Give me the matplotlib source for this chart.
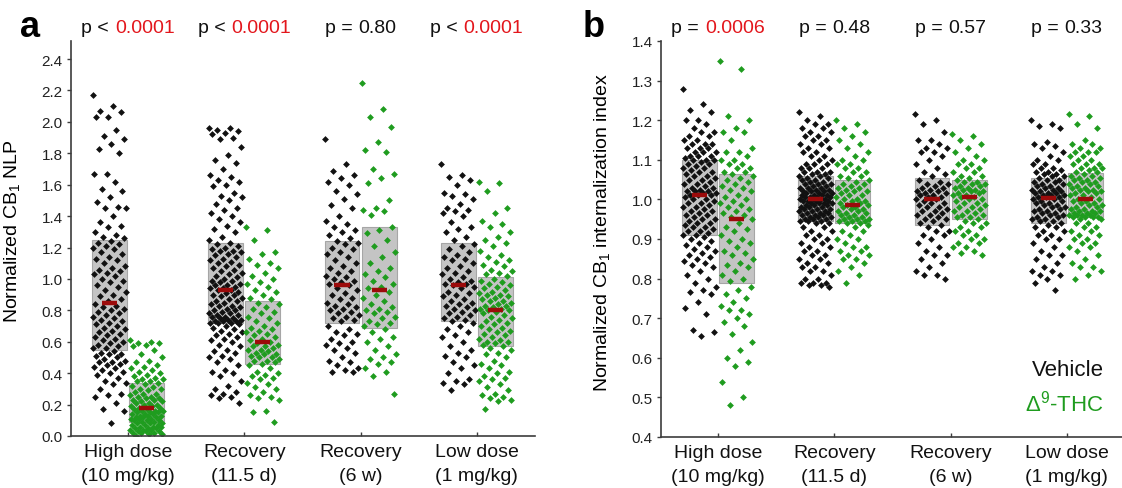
import numpy as np
import matplotlib.pyplot as plt
from matplotlib.patches import Rectangle
from matplotlib.offsetbox import TextArea, HPacker, AnnotationBbox

plt.rcParams['font.family'] = ['Liberation Sans', 'DejaVu Sans']
plt.rcParams['mathtext.fontset'] = 'custom'
plt.rcParams['mathtext.rm'] = 'Liberation Sans'
plt.rcParams['mathtext.it'] = 'Liberation Sans:italic'

groups = ["High dose\n(10 mg/kg)", "Recovery\n(11.5 d)", "Recovery\n(6 w)", "Low dose\n(1 mg/kg)"]

# ---- panel a: normalized CB1 NLP ----
nlp_hd_veh = [2.17, 2.10, 2.07, 2.06, 2.03, 2.03, 1.95, 1.91, 1.89, 1.86, 1.83, 1.80, 1.67, 1.67, 1.62,
              1.57, 1.56, 1.52, 1.49, 1.46, 1.45, 1.45, 1.40, 1.36, 1.34, 1.33, 1.30, 1.28, 1.27, 1.26,
              1.24, 1.23, 1.22, 1.21, 1.20, 1.19, 1.17, 1.16, 1.14, 1.13, 1.12, 1.10, 1.08, 1.07, 1.06,
              1.05, 1.04, 1.03, 1.02, 1.00, 0.99, 0.98, 0.96, 0.95, 0.93, 0.92, 0.90, 0.89, 0.87, 0.86,
              0.84, 0.83, 0.82, 0.81, 0.80, 0.79, 0.78, 0.77, 0.76, 0.75, 0.74, 0.73, 0.72, 0.71, 0.70,
              0.69, 0.68, 0.67, 0.66, 0.65, 0.64, 0.63, 0.62, 0.61, 0.60, 0.59, 0.58, 0.57, 0.56, 0.56,
              0.54, 0.53, 0.52, 0.52, 0.51, 0.50, 0.49, 0.48, 0.47, 0.47, 0.46, 0.45, 0.44, 0.43, 0.42,
              0.41, 0.40, 0.39, 0.37, 0.35, 0.34, 0.33, 0.30, 0.27, 0.26, 0.25, 0.21, 0.17, 0.16, 0.08]
nlp_hd_thc = [0.61, 0.60, 0.59, 0.59, 0.58, 0.57, 0.55, 0.52, 0.50, 0.48, 0.47, 0.45, 0.44, 0.43, 0.42,
              0.41, 0.40, 0.39, 0.38, 0.37, 0.36, 0.36, 0.35, 0.35, 0.34,
              0.33, 0.32, 0.31, 0.30, 0.30, 0.29, 0.28, 0.27, 0.27, 0.26, 0.25, 0.25, 0.24, 0.24, 0.23,
              0.23, 0.22, 0.22, 0.21, 0.21, 0.20, 0.20, 0.19, 0.19, 0.18,
              0.18, 0.17, 0.17, 0.16, 0.16, 0.16, 0.15, 0.15, 0.15, 0.14, 0.14, 0.14, 0.13, 0.13, 0.13,
              0.12, 0.12, 0.12, 0.11, 0.11, 0.11, 0.10, 0.10, 0.10, 0.09,
              0.09, 0.08, 0.08, 0.08, 0.07, 0.07, 0.07, 0.06, 0.06, 0.06, 0.05, 0.05, 0.05, 0.04, 0.04,
              0.04, 0.03, 0.03, 0.03, 0.02, 0.02, 0.02, 0.01, 0.01, 0.00]
nlp_r11_veh = [1.96, 1.96, 1.95, 1.94, 1.93, 1.92, 1.90, 1.89, 1.84, 1.79, 1.76, 1.74, 1.70, 1.66, 1.65,
               1.63, 1.62, 1.60, 1.59, 1.55, 1.53, 1.52, 1.50, 1.48, 1.45, 1.44, 1.42, 1.40, 1.38, 1.36,
               1.34, 1.32, 1.30, 1.27, 1.25,
               1.23, 1.22, 1.21, 1.20, 1.19, 1.18, 1.18, 1.17, 1.16, 1.15, 1.14, 1.13, 1.12, 1.11, 1.10,
               1.09, 1.08, 1.07, 1.06, 1.05, 1.04, 1.03, 1.02, 1.01, 1.00, 0.99, 0.99, 0.98, 0.97, 0.96,
               0.96, 0.95, 0.94, 0.94, 0.93,
               0.93, 0.92, 0.91, 0.90, 0.90, 0.89, 0.88, 0.87, 0.86, 0.86, 0.85, 0.84, 0.83, 0.83, 0.82,
               0.81, 0.80, 0.80, 0.79, 0.78, 0.78, 0.77, 0.77, 0.76, 0.76, 0.75, 0.75, 0.74, 0.74, 0.73,
               0.73, 0.73, 0.72, 0.72, 0.72,
               0.71, 0.70, 0.69, 0.68, 0.67, 0.66, 0.65, 0.64, 0.63, 0.62, 0.61, 0.60, 0.58, 0.57, 0.55,
               0.54, 0.53, 0.51, 0.50, 0.49, 0.47, 0.45, 0.42, 0.41, 0.40, 0.38, 0.35, 0.32, 0.30, 0.28,
               0.27, 0.26, 0.25, 0.24, 0.21]
nlp_r11_thc = [1.33, 1.31, 1.25, 1.17, 1.16, 1.13, 1.10, 1.09, 1.07, 1.04, 1.02, 1.00, 0.98, 0.97, 0.95,
               0.93, 0.92, 0.90, 0.88, 0.87,
               0.85, 0.84, 0.82, 0.81, 0.79, 0.78, 0.76, 0.75, 0.73, 0.72, 0.70, 0.69, 0.68, 0.67, 0.66,
               0.65, 0.64, 0.63, 0.62, 0.61,
               0.60, 0.59, 0.58, 0.57, 0.57, 0.56, 0.55, 0.55, 0.54, 0.53, 0.52, 0.52, 0.51, 0.50, 0.50,
               0.49, 0.48, 0.48, 0.47, 0.46,
               0.45, 0.43, 0.41, 0.40, 0.39, 0.38, 0.37, 0.36, 0.34, 0.33, 0.31, 0.30, 0.28, 0.26, 0.25,
               0.24, 0.23, 0.16, 0.15, 0.09]
nlp_r6_veh = [1.89, 1.73, 1.69, 1.66, 1.64, 1.62, 1.60, 1.56, 1.54, 1.51, 1.47, 1.45, 1.40, 1.37, 1.35,
              1.33, 1.31, 1.30, 1.28, 1.26,
              1.24, 1.23, 1.22, 1.20, 1.19, 1.17, 1.16, 1.14, 1.12, 1.10, 1.08, 1.07, 1.05, 1.04, 1.02,
              1.01, 1.00, 0.99, 0.98, 0.97,
              0.96, 0.94, 0.93, 0.91, 0.90, 0.88, 0.87, 0.85, 0.84, 0.83, 0.82, 0.81, 0.80, 0.79, 0.78,
              0.77, 0.76, 0.75, 0.74, 0.73,
              0.70, 0.68, 0.66, 0.65, 0.64, 0.62, 0.60, 0.59, 0.58, 0.56, 0.55, 0.53, 0.50, 0.48, 0.47,
              0.45, 0.43, 0.42, 0.41, 0.41]
nlp_r6_thc = [2.25, 2.08, 2.03, 1.97, 1.87, 1.82, 1.81, 1.70, 1.67, 1.64, 1.61, 1.50, 1.45, 1.44, 1.43, 1.41,
              1.33, 1.31, 1.29, 1.25, 1.21, 1.17, 1.14, 1.10, 1.07, 1.05, 1.03, 1.01, 0.99, 0.97, 0.95, 0.94,
              0.92, 0.90, 0.88, 0.86, 0.84, 0.82, 0.81, 0.80, 0.79, 0.78, 0.76, 0.75, 0.73, 0.72, 0.71, 0.70,
              0.68, 0.66, 0.63, 0.62, 0.60, 0.57, 0.55, 0.52, 0.50, 0.49, 0.47, 0.46, 0.43, 0.41, 0.38, 0.27]
nlp_ld_veh = [1.73, 1.66, 1.65, 1.63, 1.60, 1.55, 1.54, 1.53, 1.51, 1.48, 1.45, 1.44, 1.43, 1.42, 1.40,
              1.36, 1.33, 1.32, 1.30, 1.27, 1.25,
              1.22, 1.21, 1.19, 1.17, 1.15, 1.14, 1.13, 1.12, 1.10, 1.08, 1.07, 1.05, 1.04, 1.03, 1.01,
              1.00, 0.99, 0.98, 0.97, 0.97, 0.96,
              0.95, 0.94, 0.92, 0.91, 0.90, 0.89, 0.87, 0.86, 0.85, 0.84, 0.83, 0.82, 0.81, 0.80, 0.79,
              0.78, 0.77, 0.76, 0.75, 0.74, 0.73,
              0.72, 0.70, 0.68, 0.66, 0.64, 0.63, 0.60, 0.57, 0.55, 0.53, 0.51, 0.50, 0.47, 0.45, 0.43,
              0.40, 0.36, 0.35, 0.34, 0.33, 0.29]
nlp_ld_thc = [1.62, 1.61, 1.56, 1.45, 1.42, 1.37, 1.35, 1.33, 1.30, 1.27, 1.25, 1.23, 1.21, 1.18, 1.15,
              1.14, 1.12, 1.11, 1.09, 1.08, 1.06, 1.05, 1.04, 1.03, 1.02,
              1.00, 0.99, 0.98, 0.97, 0.96, 0.95, 0.94, 0.93, 0.92, 0.91, 0.90, 0.90, 0.89, 0.88, 0.87,
              0.86, 0.86, 0.85, 0.84, 0.83, 0.83, 0.82, 0.81, 0.81, 0.80,
              0.80, 0.79, 0.78, 0.77, 0.76, 0.75, 0.74, 0.73, 0.72, 0.71, 0.70, 0.69, 0.68, 0.67, 0.66,
              0.65, 0.64, 0.63, 0.62, 0.61, 0.60, 0.60, 0.59, 0.58, 0.57,
              0.56, 0.55, 0.53, 0.52, 0.50, 0.48, 0.46, 0.45, 0.43, 0.41, 0.40, 0.38, 0.37, 0.36, 0.35,
              0.33, 0.31, 0.29, 0.27, 0.26, 0.25, 0.24, 0.23, 0.22, 0.17]

# box = (lower, median, upper)
nlp_box_veh = [(0.55, 0.85, 1.25), (0.72, 0.93, 1.23), (0.72, 0.96, 1.24), (0.73, 0.96, 1.23)]
nlp_box_thc = [(0.09, 0.18, 0.34), (0.46, 0.60, 0.86), (0.69, 0.93, 1.33), (0.57, 0.80, 1.01)]
nlp_p = [("p <", "0.0001", True), ("p <", "0.0001", True), ("p =", "0.80", False), ("p <", "0.0001", True)]

# ---- panel b: normalized CB1 internalization index ----
idx_hd_veh = [1.28, 1.24, 1.225, 1.22, 1.20, 1.20, 1.19, 1.18, 1.17, 1.17, 1.16, 1.16, 1.15, 1.15, 1.14,
              1.14, 1.14, 1.13, 1.13, 1.13, 1.12, 1.12, 1.12, 1.11, 1.11, 1.11, 1.105, 1.10, 1.10, 1.10,
              1.095, 1.09, 1.09, 1.085, 1.08, 1.08, 1.075, 1.07, 1.07, 1.065, 1.06, 1.06, 1.055, 1.05, 1.05,
              1.045, 1.04, 1.04, 1.035, 1.03, 1.03, 1.025, 1.02, 1.02, 1.02, 1.015, 1.015, 1.01, 1.01, 1.01,
              1.005, 1.00, 1.00, 0.995, 0.99, 0.99, 0.985, 0.98, 0.98, 0.975, 0.97, 0.97, 0.965, 0.96, 0.96,
              0.955, 0.95, 0.95, 0.945, 0.94, 0.94, 0.935, 0.93, 0.93, 0.925, 0.92, 0.92, 0.915, 0.91, 0.91,
              0.905, 0.90, 0.895, 0.89, 0.885, 0.88, 0.875, 0.87, 0.865, 0.86, 0.855, 0.85, 0.845, 0.84, 0.835,
              0.83, 0.82, 0.81, 0.80, 0.79, 0.78, 0.77, 0.765, 0.76, 0.74, 0.725, 0.71, 0.67, 0.665, 0.655]
idx_hd_thc = [1.35, 1.33, 1.21, 1.20, 1.18, 1.17, 1.17, 1.15, 1.13, 1.12, 1.12, 1.11, 1.10, 1.10, 1.09,
              1.09, 1.08, 1.08, 1.07, 1.07, 1.065,
              1.06, 1.055, 1.05, 1.045, 1.04, 1.035, 1.03, 1.025, 1.02, 1.01, 1.005, 1.00, 0.995, 0.99, 0.985,
              0.98, 0.975, 0.97, 0.965, 0.96, 0.955,
              0.95, 0.94, 0.93, 0.925, 0.92, 0.91, 0.90, 0.895, 0.89, 0.88, 0.87, 0.865, 0.86, 0.85, 0.84,
              0.835, 0.83, 0.82, 0.81, 0.80, 0.795,
              0.78, 0.77, 0.76, 0.75, 0.74, 0.73, 0.72, 0.72, 0.71, 0.70, 0.69, 0.68, 0.66, 0.64, 0.62,
              0.60, 0.59, 0.58, 0.54, 0.50, 0.48]
idx_r11_veh = [1.22, 1.21, 1.20, 1.19, 1.19, 1.18, 1.18, 1.17, 1.17, 1.16, 1.16, 1.15, 1.15, 1.14, 1.14,
               1.13, 1.13, 1.12, 1.12, 1.11, 1.11, 1.10, 1.10, 1.09, 1.09, 1.09, 1.08, 1.08, 1.08, 1.07,
               1.07, 1.07, 1.065, 1.065, 1.06,
               1.06, 1.055, 1.055, 1.05, 1.05, 1.045, 1.045, 1.04, 1.04, 1.04, 1.035, 1.035, 1.03, 1.03, 1.03,
               1.025, 1.025, 1.02, 1.02, 1.02, 1.015, 1.015, 1.015, 1.01, 1.01, 1.01, 1.01, 1.005, 1.005, 1.005,
               1.005, 1.00, 1.00, 1.00, 1.00,
               0.995, 0.995, 0.995, 0.995, 0.99, 0.99, 0.99, 0.99, 0.985, 0.985, 0.985, 0.98, 0.98, 0.98, 0.975,
               0.975, 0.975, 0.97, 0.97, 0.97, 0.965, 0.965, 0.965, 0.96, 0.96, 0.96, 0.955, 0.955, 0.955, 0.95,
               0.95, 0.95, 0.945, 0.945, 0.945,
               0.94, 0.94, 0.93, 0.93, 0.92, 0.92, 0.91, 0.91, 0.90, 0.90, 0.89, 0.89, 0.88, 0.88, 0.87,
               0.87, 0.86, 0.86, 0.85, 0.85, 0.84, 0.84, 0.83, 0.83, 0.82, 0.82, 0.81, 0.80, 0.80, 0.79,
               0.79, 0.79, 0.785, 0.785, 0.78]
idx_r11_thc = [1.20, 1.19, 1.18, 1.17, 1.16, 1.15, 1.14, 1.13, 1.12, 1.11, 1.10, 1.10, 1.09, 1.09, 1.08,
               1.08, 1.07, 1.07, 1.06, 1.06, 1.055,
               1.05, 1.045, 1.04, 1.04, 1.035, 1.03, 1.03, 1.025, 1.02, 1.02, 1.015, 1.01, 1.01, 1.005, 1.00,
               1.00, 0.995, 0.995, 0.99, 0.99, 0.985,
               0.985, 0.98, 0.98, 0.975, 0.975, 0.97, 0.97, 0.965, 0.965, 0.96, 0.96, 0.955, 0.955, 0.95, 0.95,
               0.95, 0.945, 0.945, 0.945, 0.94, 0.94,
               0.935, 0.93, 0.92, 0.92, 0.91, 0.90, 0.90, 0.89, 0.88, 0.88, 0.87, 0.87, 0.86, 0.86, 0.85,
               0.85, 0.84, 0.83, 0.82, 0.81, 0.79]
idx_r6_veh = [1.215, 1.20, 1.19, 1.17, 1.15, 1.15, 1.14, 1.13, 1.13, 1.12, 1.12, 1.11, 1.10, 1.09, 1.08,
              1.07, 1.065, 1.06,
              1.05, 1.045, 1.04, 1.04, 1.035, 1.03, 1.03, 1.025, 1.02, 1.02, 1.015, 1.015, 1.01, 1.01, 1.005,
              1.005, 1.00, 1.00,
              0.995, 0.99, 0.99, 0.985, 0.98, 0.98, 0.975, 0.97, 0.97, 0.965, 0.96, 0.96, 0.955, 0.95, 0.95,
              0.945, 0.94, 0.935,
              0.93, 0.92, 0.92, 0.91, 0.91, 0.90, 0.89, 0.88, 0.87, 0.86, 0.86, 0.85, 0.84, 0.83, 0.82,
              0.81, 0.81, 0.80]
idx_r6_thc = [1.165, 1.16, 1.15, 1.14, 1.13, 1.12, 1.11, 1.10, 1.10, 1.09, 1.09, 1.08, 1.08, 1.07, 1.07,
              1.06, 1.06, 1.055,
              1.05, 1.045, 1.045, 1.04, 1.04, 1.035, 1.035, 1.03, 1.03, 1.025, 1.025, 1.02, 1.02, 1.015, 1.015,
              1.01, 1.01, 1.005,
              1.005, 1.00, 1.00, 0.995, 0.99, 0.99, 0.985, 0.98, 0.98, 0.975, 0.97, 0.97, 0.965, 0.96, 0.96,
              0.955, 0.955, 0.95,
              0.945, 0.94, 0.94, 0.93, 0.93, 0.92, 0.92, 0.91, 0.91, 0.90, 0.90, 0.89, 0.89, 0.88, 0.88,
              0.87, 0.865, 0.86]
idx_ld_veh = [1.20, 1.19, 1.185, 1.18, 1.145, 1.14, 1.135, 1.13, 1.12, 1.11, 1.10, 1.10, 1.09, 1.09, 1.08,
              1.08, 1.075, 1.07, 1.07, 1.065, 1.065, 1.06, 1.06, 1.055,
              1.05, 1.05, 1.045, 1.045, 1.04, 1.04, 1.035, 1.035, 1.03, 1.03, 1.025, 1.025, 1.02, 1.02, 1.015,
              1.015, 1.015, 1.01, 1.01, 1.01, 1.005, 1.005, 1.005, 1.00,
              1.00, 0.995, 0.995, 0.99, 0.99, 0.985, 0.985, 0.98, 0.98, 0.975, 0.975, 0.97, 0.97, 0.965, 0.965,
              0.96, 0.96, 0.955, 0.955, 0.95, 0.95, 0.945, 0.945, 0.94,
              0.935, 0.93, 0.93, 0.92, 0.92, 0.91, 0.91, 0.90, 0.90, 0.89, 0.88, 0.87, 0.86, 0.86, 0.85,
              0.84, 0.83, 0.82, 0.82, 0.81, 0.81, 0.80, 0.79, 0.77]
idx_ld_thc = [1.215, 1.21, 1.19, 1.18, 1.15, 1.14, 1.14, 1.13, 1.13, 1.12, 1.12, 1.12, 1.11, 1.11, 1.10,
              1.10, 1.09, 1.09, 1.09, 1.08, 1.08, 1.08, 1.075, 1.07, 1.07,
              1.065, 1.06, 1.06, 1.055, 1.055, 1.05, 1.05, 1.045, 1.045, 1.04, 1.04, 1.035, 1.035, 1.03, 1.03,
              1.025, 1.025, 1.02, 1.02, 1.015, 1.015, 1.01, 1.01, 1.005, 1.00,
              1.00, 0.995, 0.995, 0.99, 0.99, 0.985, 0.985, 0.98, 0.98, 0.975, 0.975, 0.97, 0.97, 0.97, 0.965,
              0.965, 0.965, 0.96, 0.96, 0.96, 0.96, 0.955, 0.955, 0.955, 0.955,
              0.95, 0.95, 0.94, 0.94, 0.93, 0.93, 0.92, 0.92, 0.91, 0.91, 0.90, 0.90, 0.89, 0.89, 0.88,
              0.88, 0.87, 0.86, 0.85, 0.84, 0.83, 0.83, 0.82, 0.81, 0.80]

idx_box_veh = [(0.91, 1.01, 1.10), (0.945, 1.00, 1.06), (0.935, 1.00, 1.055), (0.94, 1.003, 1.055)]
idx_box_thc = [(0.79, 0.95, 1.063), (0.94, 0.985, 1.05), (0.95, 1.005, 1.05), (0.955, 1.00, 1.067)]
idx_p = [("p =", "0.0006", True), ("p =", "0.48", False), ("p =", "0.57", False), ("p =", "0.33", False)]

BLACK = "#111111"
GREEN = "#1f9c1f"
RED_TXT = "#e3161c"
MEDIAN = "#9c0b0b"
BOX = "#c4c4c4"
SPINE = "#3c3c3c"


def jitter(n, spread=0.29):
    # evenly scattered horizontal offsets (golden-ratio sequence)
    return ((np.arange(n) * 0.6180339887) % 1.0 - 0.5) * spread


def draw_panel(ax, vehicle, thc, box_veh, box_thc, pvals, ylim, yticks):
    w = 0.30
    for i in range(4):
        xc = i + 1
        for vals, box, off, col in ((vehicle[i], box_veh[i], -0.16, BLACK),
                                    (thc[i], box_thc[i], 0.16, GREEN)):
            lo, med, hi = box
            ax.add_patch(Rectangle((xc + off - w / 2, lo), w, hi - lo,
                                   facecolor=BOX, edgecolor="#a6a6a6", lw=0.8, zorder=1))
            vals = np.asarray(vals)
            ax.scatter(xc + off + jitter(len(vals)), vals, s=12, marker="D",
                       color=col, linewidths=0, zorder=2)
            ax.plot([xc + off - 0.065, xc + off + 0.065], [med, med], color=MEDIAN,
                    lw=3.2, solid_capstyle="butt", zorder=3)

        pre, num, sig = pvals[i]
        pack = HPacker(children=[TextArea(pre, textprops=dict(color=BLACK, fontsize=14)),
                                 TextArea(num, textprops=dict(color=RED_TXT if sig else BLACK, fontsize=14))],
                       align="baseline", pad=0, sep=4)
        ab = AnnotationBbox(pack, (xc, 1.035), xycoords=ax.get_xaxis_transform(),
                            frameon=False, box_alignment=(0.5, 0.5), annotation_clip=False)
        ax.add_artist(ab)

    ax.set_xlim(0.51, 4.5)
    ax.set_ylim(*ylim)
    ax.set_yticks(yticks)
    ax.set_yticklabels([f"{t:.1f}" for t in yticks])
    ax.set_xticks([1, 2, 3, 4])
    ax.set_xticklabels(groups, linespacing=1.55)
    for s in ("top", "right"):
        ax.spines[s].set_visible(False)
    for s in ("left", "bottom"):
        ax.spines[s].set_color(SPINE)
        ax.spines[s].set_linewidth(1.2)
    ax.tick_params(axis="y", direction="out", length=3, width=1, color=SPINE,
                   labelsize=11, pad=3, labelcolor="#222222")
    ax.tick_params(axis="x", direction="in", length=3, width=1, color=SPINE,
                   labelsize=14, pad=5, labelcolor="#111111")


fig = plt.figure(figsize=(11.22, 4.89), dpi=100)
ax_a = fig.add_axes([71 / 1122, 52 / 489, 464 / 1122, 395 / 489])
ax_b = fig.add_axes([661 / 1122, 51 / 489, 464 / 1122, 396 / 489])

draw_panel(ax_a,
           [nlp_hd_veh, nlp_r11_veh, nlp_r6_veh, nlp_ld_veh],
           [nlp_hd_thc, nlp_r11_thc, nlp_r6_thc, nlp_ld_thc],
           nlp_box_veh, nlp_box_thc, nlp_p, (0, 2.515), np.arange(0, 2.41, 0.2))
draw_panel(ax_b,
           [idx_hd_veh, idx_r11_veh, idx_r6_veh, idx_ld_veh],
           [idx_hd_thc, idx_r11_thc, idx_r6_thc, idx_ld_thc],
           idx_box_veh, idx_box_thc, idx_p, (0.4, 1.4), np.arange(0.4, 1.41, 0.1))

ax_a.set_ylabel("Normalized CB$_{1}$ NLP", fontsize=14)
ax_b.set_ylabel("Normalized CB$_{1}$ internalization index", fontsize=14)
ax_a.yaxis.set_label_coords(-0.106, 0.52)
ax_b.yaxis.set_label_coords(-0.106, 0.52)

fig.text(20 / 1122, 1 - 37 / 489, "a", fontsize=26, fontweight="bold", va="baseline")
fig.text(583 / 1122, 1 - 37 / 489, "b", fontsize=26, fontweight="bold", va="baseline")

fig.text(1104 / 1122, 1 - 370 / 489, "Vehicle", fontsize=16, color=BLACK, ha="right", va="center")
fig.text(1104 / 1122, 1 - 404 / 489, "Δ$^{9}$-THC", fontsize=16, color=GREEN, ha="right", va="center")

fig.savefig("out.png", dpi=100)
